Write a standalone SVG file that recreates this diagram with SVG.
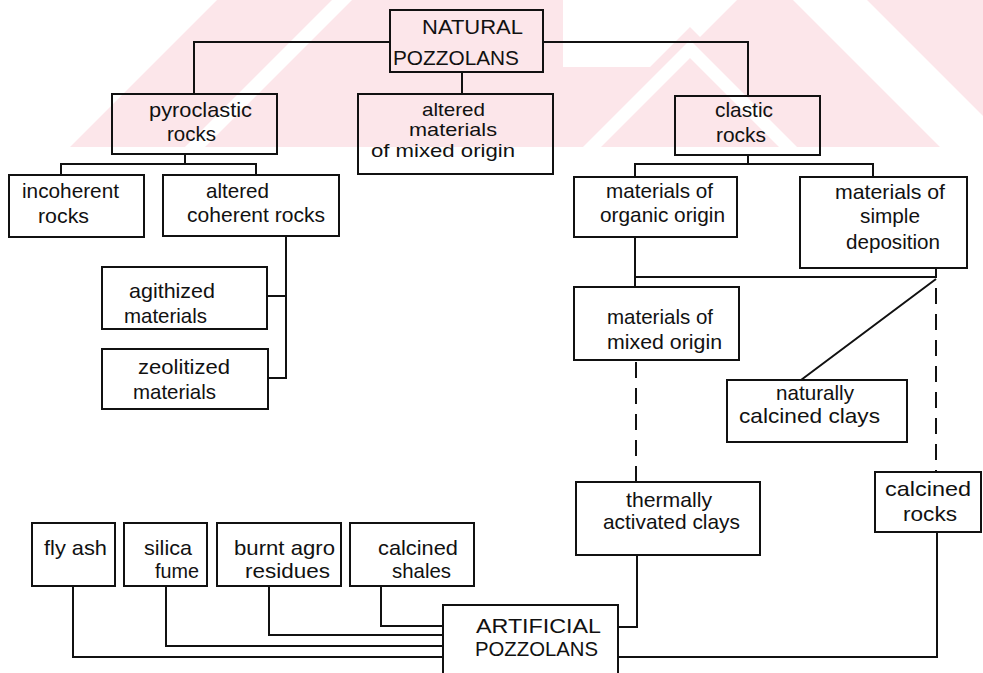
<svg xmlns="http://www.w3.org/2000/svg" width="983" height="673" viewBox="0 0 983 673">
<style>
.b{fill:none;stroke:#111;stroke-width:2}
.c{fill:none;stroke:#111;stroke-width:2}
.d{fill:none;stroke:#111;stroke-width:2;stroke-dasharray:16 10}
text{font-family:"Liberation Sans",Arial,sans-serif;font-size:21px;fill:#111}
.s{font-size:18.5px}
.wm{fill:#fce6ea}
.ww{fill:#ffffff}
</style>
<rect width="983" height="673" fill="#fff"/>
<g id="watermark">
<rect class="wm" x="0" y="0" width="983" height="147"/>
<polygon class="ww" points="0,0 217,0 70,147 0,147"/>
<polygon class="ww" points="332,0 352,0 205,147 185,147"/>
<polygon class="ww" points="563,0 737,0 700,37 690,27 650,67 563,67"/>
<polygon class="ww" points="690,40 797,147 779,147 690,58 601,147 583,147"/>
<polygon class="ww" points="793,0 867,0 1014,147 940,147"/>
</g>
<g id="connectors">
<path class="c" d="M194,94 V42 H390"/>
<path class="c" d="M543,42 H748 V96"/>
<path class="c" d="M462,72 V94"/>
<path class="c" d="M185,154 V164 M61,175 V164 H256 V175"/>
<path class="c" d="M286,236 V378 H267 M286,296 H267"/>
<path class="c" d="M748,155 V164 M635,176 V164 H873 V177"/>
<path class="c" d="M635,237 V287 M635,277 H936 V268 M936,279 L801,380"/>
<path class="d" d="M636,362 V482"/>
<path class="d" d="M936,288 V472"/>
<path class="c" d="M637,555 V627 H618"/>
<path class="c" d="M937,532 V657 H618"/>
<path class="c" d="M381,586 V626 H443"/>
<path class="c" d="M269,586 V635 H443"/>
<path class="c" d="M166,586 V646 H443"/>
<path class="c" d="M73,586 V657 H443"/>
</g>
<g id="natural"><rect class="b" x="390" y="10" width="153" height="62"/>
<text x="422" y="34" textLength="101" lengthAdjust="spacingAndGlyphs">NATURAL</text>
<text x="393" y="65" textLength="126" lengthAdjust="spacingAndGlyphs">POZZOLANS</text></g>
<g id="pyroclastic"><rect class="b" x="112" y="94" width="165" height="60"/>
<text x="149" y="117" textLength="103" lengthAdjust="spacingAndGlyphs">pyroclastic</text>
<text x="167" y="141" textLength="49" lengthAdjust="spacingAndGlyphs">rocks</text></g>
<g id="altered-mixed"><rect class="b" x="358" y="94" width="195" height="80"/>
<text class="s" x="422" y="116" textLength="63" lengthAdjust="spacingAndGlyphs">altered</text>
<text class="s" x="409" y="136" textLength="88" lengthAdjust="spacingAndGlyphs">materials</text>
<text class="s" x="371" y="157" textLength="144" lengthAdjust="spacingAndGlyphs">of mixed origin</text></g>
<g id="clastic"><rect class="b" x="675" y="96" width="145" height="59"/>
<text x="715" y="117" textLength="58" lengthAdjust="spacingAndGlyphs">clastic</text>
<text x="716" y="142" textLength="50" lengthAdjust="spacingAndGlyphs">rocks</text></g>
<g id="incoherent"><rect class="b" x="9" y="175" width="135" height="62"/>
<text x="22" y="198" textLength="97" lengthAdjust="spacingAndGlyphs">incoherent</text>
<text x="38" y="223" textLength="51" lengthAdjust="spacingAndGlyphs">rocks</text></g>
<g id="altered-coherent"><rect class="b" x="163" y="175" width="176" height="61"/>
<text x="206" y="198" textLength="63" lengthAdjust="spacingAndGlyphs">altered</text>
<text x="187" y="222" textLength="138" lengthAdjust="spacingAndGlyphs">coherent rocks</text></g>
<g id="agithized"><rect class="b" x="102" y="267" width="165" height="62"/>
<text x="129" y="298" textLength="86" lengthAdjust="spacingAndGlyphs">agithized</text>
<text x="124" y="323" textLength="83" lengthAdjust="spacingAndGlyphs">materials</text></g>
<g id="zeolitized"><rect class="b" x="102" y="349" width="166" height="60"/>
<text x="138" y="374" textLength="92" lengthAdjust="spacingAndGlyphs">zeolitized</text>
<text x="133" y="399" textLength="83" lengthAdjust="spacingAndGlyphs">materials</text></g>
<g id="organic"><rect class="b" x="574" y="177" width="163" height="60"/>
<text x="606" y="198" textLength="107" lengthAdjust="spacingAndGlyphs">materials of</text>
<text x="600" y="222" textLength="125" lengthAdjust="spacingAndGlyphs">organic origin</text></g>
<g id="simple"><rect class="b" x="800" y="177" width="167" height="91"/>
<text x="835" y="199" textLength="110" lengthAdjust="spacingAndGlyphs">materials of</text>
<text x="860" y="223" textLength="60" lengthAdjust="spacingAndGlyphs">simple</text>
<text x="846" y="249" textLength="94" lengthAdjust="spacingAndGlyphs">deposition</text></g>
<g id="mixed"><rect class="b" x="574" y="287" width="165" height="73"/>
<text x="607" y="324" textLength="106" lengthAdjust="spacingAndGlyphs">materials of</text>
<text x="607" y="349" textLength="115" lengthAdjust="spacingAndGlyphs">mixed origin</text></g>
<g id="naturally"><rect class="b" x="727" y="380" width="180" height="62"/>
<text x="776" y="400" textLength="78" lengthAdjust="spacingAndGlyphs">naturally</text>
<text x="739" y="423" textLength="141" lengthAdjust="spacingAndGlyphs">calcined clays</text></g>
<g id="thermally"><rect class="b" x="576" y="482" width="184" height="73"/>
<text x="626" y="507" textLength="86" lengthAdjust="spacingAndGlyphs">thermally</text>
<text x="603" y="529" textLength="137" lengthAdjust="spacingAndGlyphs">activated clays</text></g>
<g id="calcined-rocks"><rect class="b" x="875" y="472" width="106" height="60"/>
<text x="885" y="496" textLength="86" lengthAdjust="spacingAndGlyphs">calcined</text>
<text x="903" y="521" textLength="54" lengthAdjust="spacingAndGlyphs">rocks</text></g>
<g id="fly-ash"><rect class="b" x="32" y="523" width="83" height="63"/>
<text x="44" y="555" textLength="63" lengthAdjust="spacingAndGlyphs">fly ash</text></g>
<g id="silica"><rect class="b" x="124" y="523" width="83" height="63"/>
<text x="144" y="555" textLength="48" lengthAdjust="spacingAndGlyphs">silica</text>
<text x="155" y="578" textLength="44" lengthAdjust="spacingAndGlyphs">fume</text></g>
<g id="burnt"><rect class="b" x="217" y="523" width="124" height="63"/>
<text x="234" y="555" textLength="101" lengthAdjust="spacingAndGlyphs">burnt agro</text>
<text x="245" y="578" textLength="85" lengthAdjust="spacingAndGlyphs">residues</text></g>
<g id="shales"><rect class="b" x="350" y="523" width="124" height="63"/>
<text x="378" y="555" textLength="80" lengthAdjust="spacingAndGlyphs">calcined</text>
<text x="392" y="578" textLength="59" lengthAdjust="spacingAndGlyphs">shales</text></g>
<g id="artificial"><rect class="b" x="443" y="605" width="175" height="90"/>
<text x="476" y="633" textLength="125" lengthAdjust="spacingAndGlyphs">ARTIFICIAL</text>
<text x="475" y="656" textLength="123" lengthAdjust="spacingAndGlyphs">POZZOLANS</text></g>
</svg>
